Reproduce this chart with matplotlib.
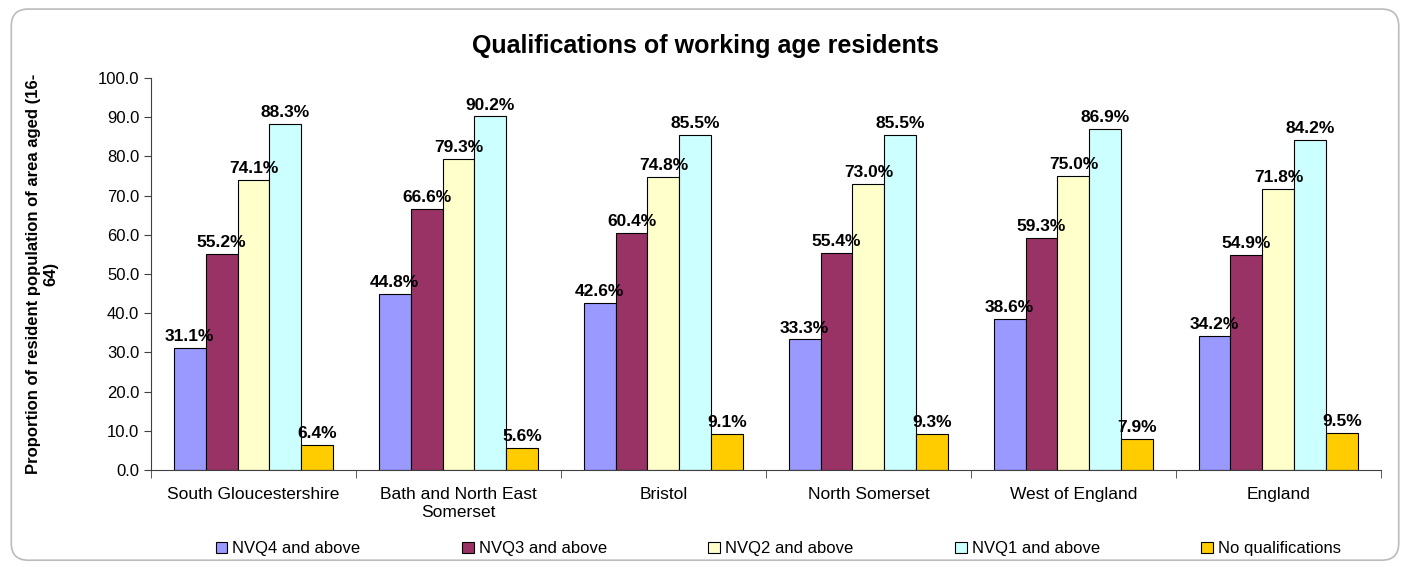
import numpy as np
import matplotlib
matplotlib.use("Agg")
import matplotlib.pyplot as plt
from matplotlib.patches import FancyBboxPatch, Patch

plt.rcParams['font.family'] = ['Liberation Sans', 'DejaVu Sans']

areas = ["South Gloucestershire", "Bath and North East\nSomerset", "Bristol",
         "North Somerset", "West of England", "England"]
series = ["NVQ4 and above", "NVQ3 and above", "NVQ2 and above",
          "NVQ1 and above", "No qualifications"]
nvq4 = [31.1, 44.8, 42.6, 33.3, 38.6, 34.2]
nvq3 = [55.2, 66.6, 60.4, 55.4, 59.3, 54.9]
nvq2 = [74.1, 79.3, 74.8, 73.0, 75.0, 71.8]
nvq1 = [88.3, 90.2, 85.5, 85.5, 86.9, 84.2]
noqual = [6.4, 5.6, 9.1, 9.3, 7.9, 9.5]
colors = ["#9999FF", "#993366", "#FFFFCC", "#CCFFFF", "#FFCC00"]

fig = plt.figure(figsize=(14.1, 5.67), dpi=100)

# rounded chart border
border = FancyBboxPatch((0.008, 0.012), 0.984, 0.972,
                        boxstyle="round,pad=0,rounding_size=0.012",
                        transform=fig.transFigure, facecolor="none",
                        edgecolor="#BBBBBB", linewidth=1.2,
                        mutation_aspect=1410 / 567, zorder=-1)
fig.patches.append(border)

ax = fig.add_axes([0.1071, 0.171, 0.8723, 0.6914])
ax.patch.set_alpha(0)

x = np.arange(len(areas))
w = 0.156
data = [nvq4, nvq3, nvq2, nvq1, noqual]
for i, vals in enumerate(data):
    pos = x + (i - 2) * w
    ax.bar(pos, vals, width=w, color=colors[i], edgecolor="black",
           linewidth=0.8, label=series[i])
    for p, v in zip(pos, vals):
        ax.text(p, v + 1.0, "{:.1f}%".format(v), ha="center", va="bottom",
                fontsize=12.5, fontweight="bold")

ax.set_xlim(-0.5, len(areas) - 0.5)
ax.set_ylim(0, 100)
ax.set_yticks(np.arange(0, 101, 10))
ax.set_yticklabels(["{:.1f}".format(t) for t in np.arange(0, 101, 10)],
                   fontsize=12)
ax.set_xticks(x)
ax.set_xticklabels(areas, fontsize=12.5, linespacing=1.25)
ax.set_xticks(np.arange(-0.5, len(areas)), minor=True)
ax.tick_params(axis="x", which="major", length=0, pad=12)
ax.tick_params(axis="x", which="minor", length=6, direction="out",
               color="#404040")
ax.tick_params(axis="y", length=5, color="#404040")
for s in ["top", "right"]:
    ax.spines[s].set_visible(False)
ax.spines["left"].set_color("#404040")
ax.spines["bottom"].set_color("#404040")

ax.set_ylabel("Proportion of resident population of area aged (16-\n64)",
              fontsize=12, fontweight="bold", labelpad=28)

fig.text(0.5, 0.918, "Qualifications of working age residents",
         ha="center", va="center", fontsize=18, fontweight="bold")

handles = [Patch(facecolor=c, edgecolor="black", linewidth=0.8) for c in colors]
fig.legend(handles, series, loc="center", bbox_to_anchor=(0.552, 0.032),
           ncol=5, frameon=False, fontsize=12, handlelength=0.7,
           handleheight=0.7, handletextpad=0.3, columnspacing=6.1)

fig.savefig("out.png", dpi=100)
